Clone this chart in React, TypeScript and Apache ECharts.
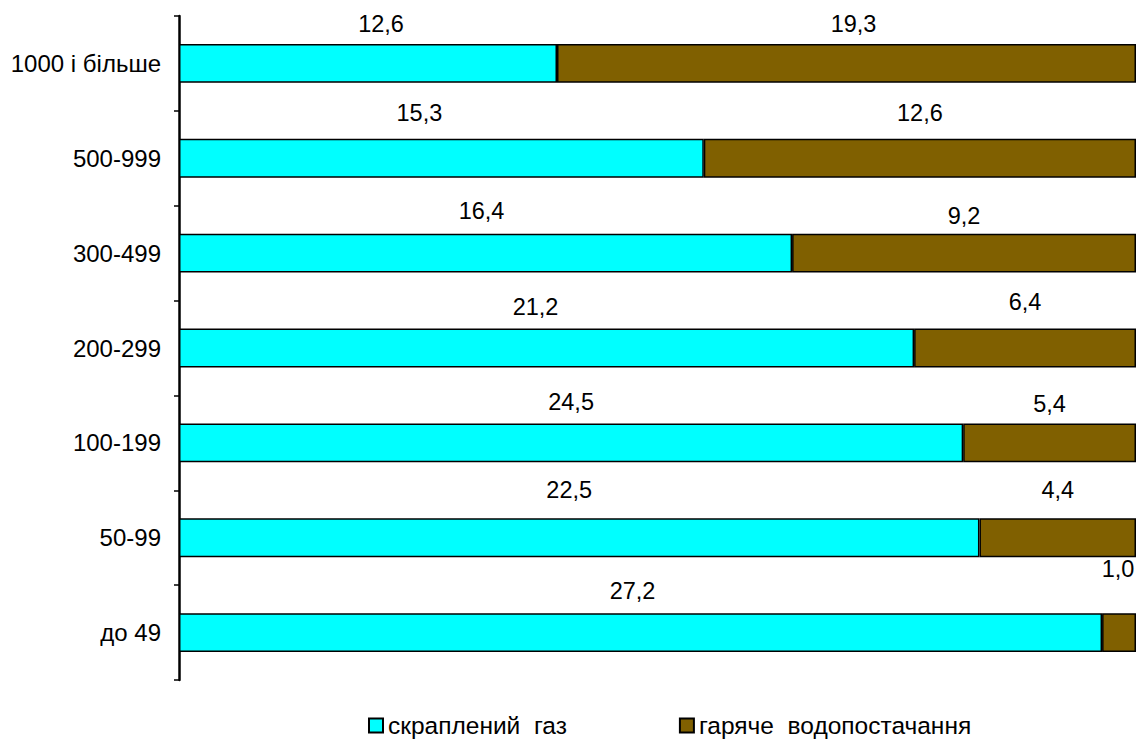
import React, { useEffect, useRef } from "react";
import * as echarts from "echarts";

const categories = ["1000 і більше", "500-999", "300-499", "200-299", "100-199", "50-99", "до 49"];
const gasValues = [12.6, 15.3, 16.4, 21.2, 24.5, 22.5, 27.2];
const hotWaterValues = [19.3, 12.6, 9.2, 6.4, 5.4, 4.4, 1.0];
const seriesNames = ["скраплений  газ", "гаряче  водопостачання"];

// manual label nudges (pixels) as placed in the original chart
const gasLabelNudge = [[13, 0], [-22, -6], [-4, -3], [-11, -2], [0, -1], [-10, -8], [-8, -2]];
const waterLabelNudge = [[7, 0], [0, -6], [0, 2], [0, -7], [0, 1], [0, -8], [-1, -24]];

const fmt = (v: number) => v.toFixed(1).replace(".", ",");

export default function App() {
  const ref = useRef<HTMLDivElement>(null);
  useEffect(() => {
    const chart = echarts.init(ref.current!, null, { renderer: "svg" });
    const totals = gasValues.map((g, i) => g + hotWaterValues[i]);
    const mk = (vals: number[], nudge: number[][]) =>
      vals.map((v, i) => ({
        value: (v / totals[i]) * 100,
        raw: v,
        label: { offset: nudge[i] },
      }));
    const font = "'Liberation Sans', Arial, sans-serif";
    const labelCfg = {
      show: true,
      position: "top" as const,
      distance: 8,
      color: "#000",
      fontSize: 23.5,
      fontFamily: font,
      formatter: (p: any) => fmt(p.data.raw),
    };
    chart.setOption({
      animation: false,
      grid: { left: 179, right: 0, top: 16, bottom: 63, containLabel: false },
      legend: {
        left: 363,
        top: 708,
        itemWidth: 14,
        itemHeight: 14,
        itemGap: 112,
        icon: "rect",
        textStyle: { fontSize: 24.5, fontFamily: font, color: "#000" },
        data: seriesNames,
      },
      xAxis: {
        type: "value",
        min: 0,
        max: 100,
        show: false,
      },
      yAxis: {
        type: "category",
        inverse: true,
        data: categories,
        axisLine: { show: true, lineStyle: { color: "#000", width: 2.5 } },
        axisTick: { show: true, inside: false, length: 5, alignWithLabel: false, lineStyle: { color: "#000", width: 1.5 } },
        axisLabel: { color: "#000", fontSize: 24, fontFamily: font, margin: 18 },
        splitLine: { show: false },
      },
      series: [
        {
          name: seriesNames[0],
          type: "bar",
          stack: "t",
          barWidth: "41%",
          data: mk(gasValues, gasLabelNudge),
          itemStyle: { color: "#00FFFF", borderColor: "#000", borderWidth: 1.5 },
          label: labelCfg,
        },
        {
          name: seriesNames[1],
          type: "bar",
          stack: "t",
          barWidth: "41%",
          data: mk(hotWaterValues, waterLabelNudge),
          itemStyle: { color: "#806000", borderColor: "#000", borderWidth: 1.5 },
          label: labelCfg,
        },
      ],
    });
    return () => chart.dispose();
  }, []);
  return (
    <div
      ref={ref}
      style={{ position: "fixed", left: 0, top: 0, width: 1136, height: 743, background: "#fff" }}
    />
  );
}
